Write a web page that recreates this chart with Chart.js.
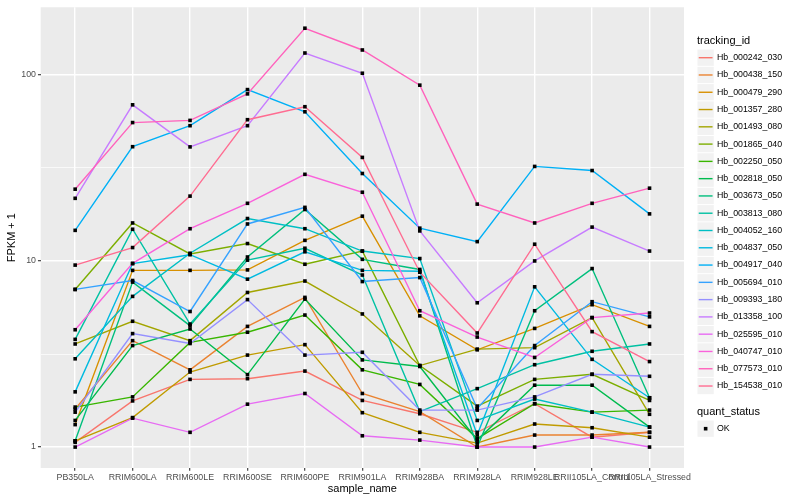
<!DOCTYPE html>
<html><head><meta charset="utf-8">
<script src="https://cdn.jsdelivr.net/npm/chart.js@4.4.1/dist/chart.umd.min.js"></script>
<style>html,body{margin:0;padding:0;background:#fff}#wrap{width:800px;height:500px;position:relative}</style>
</head><body><div id="wrap"><canvas id="c" width="800" height="500"></canvas></div>
<script>
const categories = ["PB350LA","RRIM600LA","RRIM600LE","RRIM600SE","RRIM600PE","RRIM901LA","RRIM928BA","RRIM928LA","RRIM928LE","RRII105LA_Control","RRII105LA_Stressed"];
const trackingIds = ["Hb_000242_030","Hb_000438_150","Hb_000479_290","Hb_001357_280","Hb_001493_080","Hb_001865_040","Hb_002250_050","Hb_002818_050","Hb_003673_050","Hb_003813_080","Hb_004052_160","Hb_004837_050","Hb_004917_040","Hb_005694_010","Hb_009393_180","Hb_013358_100","Hb_025595_010","Hb_040747_010","Hb_077573_010","Hb_154538_010"];
const seriesColors = ["#F8766D","#EA8331","#D89000","#C09B00","#A3A500","#7CAE00","#39B600","#00BB4E","#00BF7D","#00C1A3","#00BFC4","#00BAE0","#00B0F6","#35A2FF","#9590FF","#C77CFF","#E76BF3","#FA62DB","#FF62BC","#FF6C91"];
const yMajorTicks = [1, 10, 100];
const yMinorTicks = [3.1623, 31.623];

const hb_000242_030 = [1.06, 1.77, 2.31, 2.33, 2.56, 1.78, 1.51, 1.2, 1.71, 1.13, 1.2];
const hb_000438_150 = [1.60, 3.73, 2.60, 4.45, 6.37, 1.94, 1.55, 1.0, 1.16, 1.16, 1.2];
const hb_000479_290 = [1.32, 8.9, 8.9, 8.95, 12.9, 17.4, 5.07, 3.33, 4.34, 5.82, 4.45];
const hb_001357_280 = [1.08, 1.44, 2.53, 3.12, 3.55, 1.53, 1.2, 1.05, 1.33, 1.27, 1.13];
const hb_001493_080 = [3.58, 4.74, 3.73, 6.77, 7.8, 5.19, 2.74, 3.36, 3.42, 4.96, 1.5];
const hb_001865_040 = [7.03, 16.0, 10.9, 12.4, 9.6, 11.3, 2.74, 1.66, 2.31, 2.46, 1.78];
const hb_002250_050 = [1.64, 1.86, 3.65, 4.14, 5.12, 2.6, 2.17, 1.11, 1.71, 1.54, 1.58];
const hb_002818_050 = [1.39, 3.51, 4.31, 2.45, 6.24, 2.94, 2.71, 1.09, 2.15, 2.15, 1.28];
const hb_003673_050 = [1.08, 7.7, 4.49, 10.5, 18.9, 10.2, 9.0, 1.0, 5.4, 9.1, 1.84];
const hb_003813_080 = [3.79, 14.8, 4.58, 10.1, 11.7, 8.4, 1.55, 2.06, 2.77, 3.27, 3.58];
const hb_004052_160 = [2.98, 6.45, 11.0, 16.9, 14.9, 11.3, 10.3, 1.39, 1.81, 1.54, 1.28];
const hb_004837_050 = [1.98, 9.68, 10.8, 7.98, 11.2, 8.9, 8.8, 1.16, 7.26, 2.96, 1.84];
const hb_004917_040 = [14.6, 41.1, 53.3, 83.3, 63.3, 29.5, 15.0, 12.7, 32.2, 30.6, 17.9];
const hb_005694_010 = [7.03, 7.85, 5.35, 15.8, 19.4, 7.75, 8.14, 1.61, 3.51, 6.04, 5.01];
const hb_009393_180 = [1.54, 4.07, 3.6, 6.2, 3.12, 3.23, 1.58, 1.58, 1.86, 2.46, 2.4];
const hb_013358_100 = [21.7, 69, 41, 53.3, 131, 102, 14.5, 5.96, 10, 15.2, 11.3];
const hb_025595_010 = [1.0, 1.43, 1.2, 1.7, 1.94, 1.15, 1.09, 1.0, 1.0, 1.13, 1.0];
const hb_040747_010 = [4.27, 9.7, 14.9, 20.4, 29.2, 23.4, 5.4, 3.9, 3.03, 4.96, 5.25];
const hb_077573_010 = [24.3, 55.4, 56.9, 79, 178, 136, 88, 20.2, 16, 20.4, 24.6];
const hb_154538_010 = [9.5, 11.8, 22.3, 57.4, 67.4, 36, 8.7, 4.1, 12.3, 4.17, 2.88];

const seriesValues = [hb_000242_030, hb_000438_150, hb_000479_290, hb_001357_280, hb_001493_080, hb_001865_040, hb_002250_050, hb_002818_050, hb_003673_050, hb_003813_080, hb_004052_160, hb_004837_050, hb_004917_040, hb_005694_010, hb_009393_180, hb_013358_100, hb_025595_010, hb_040747_010, hb_077573_010, hb_154538_010];

const FONT = "'Liberation Sans', Arial, Helvetica, sans-serif";

// ggplot-like 5% expansion on log scale
const allVals = seriesValues.flat();
const lmin = Math.log10(Math.min(...allVals)), lmax = Math.log10(Math.max(...allVals));
const ex = (lmax - lmin) * 0.05;
const yMin = Math.pow(10, lmin - ex), yMax = Math.pow(10, lmax + ex);

const isMajor = v => yMajorTicks.some(t => Math.abs(t - v) < 1e-6);

const datasets = seriesValues.map((vals, i) => ({
  label: trackingIds[i],
  data: vals.map((v, j) => ({x: j, y: v})),
  borderColor: seriesColors[i],
  backgroundColor: seriesColors[i],
  borderWidth: 1.4,
  pointRadius: 0,
  tension: 0,
  fill: false,
  order: seriesValues.length - 1 - i
}));

const panelBg = {
  id: 'panelBg',
  beforeDraw(chart) {
    const {ctx, chartArea: a} = chart;
    ctx.save();
    ctx.fillStyle = '#EBEBEB';
    ctx.fillRect(a.left, a.top, a.right - a.left, a.bottom - a.top);
    ctx.restore();
  }
};

const pointsOnTop = {
  id: 'pointsOnTop',
  afterDatasetsDraw(chart) {
    const ctx = chart.ctx;
    ctx.save();
    ctx.fillStyle = '#000';
    chart.data.datasets.forEach((ds, i) => {
      chart.getDatasetMeta(i).data.forEach(pt => {
        ctx.fillRect(pt.x - 1.8, pt.y - 1.8, 3.6, 3.6);
      });
    });
    ctx.restore();
  }
};

const legendPlugin = {
  id: 'ggLegend',
  afterDraw(chart) {
    const ctx = chart.ctx;
    const x0 = 697, key = 17.28, tx = 717;
    ctx.save();
    ctx.fillStyle = '#000';
    ctx.textBaseline = 'middle';
    ctx.textAlign = 'left';
    ctx.font = `11px ${FONT}`;
    ctx.fillText('tracking_id', x0, 40.5);
    ctx.font = `8.8px ${FONT}`;
    trackingIds.forEach((id, i) => {
      const cy = 57.7 + i * key;
      ctx.fillStyle = '#F2F2F2';
      ctx.fillRect(x0 + 0.5, cy - key / 2 + 0.5, key - 1, key - 1);
      ctx.strokeStyle = seriesColors[i];
      ctx.lineWidth = 1.4;
      ctx.beginPath();
      ctx.moveTo(x0 + key * 0.1, cy);
      ctx.lineTo(x0 + key * 0.9, cy);
      ctx.stroke();
      ctx.fillStyle = '#000';
      ctx.fillText(id, tx, cy);
    });
    ctx.font = `11px ${FONT}`;
    ctx.fillText('quant_status', x0, 411.7);
    const cy = 428.7;
    ctx.fillStyle = '#F2F2F2';
    ctx.fillRect(x0 + 0.5, cy - key / 2 + 0.5, key - 1, key - 1);
    ctx.fillStyle = '#000';
    ctx.fillRect(x0 + key / 2 - 1.8, cy - 1.8, 3.6, 3.6);
    ctx.font = `8.8px ${FONT}`;
    ctx.fillText('OK', tx, cy);
    ctx.restore();
  }
};

new Chart(document.getElementById('c'), {
  type: 'line',
  data: {datasets},
  plugins: [panelBg, pointsOnTop, legendPlugin],
  options: {
    responsive: false,
    animation: false,
    devicePixelRatio: 1,
    layout: {padding: {left: 0, right: 116, top: 5, bottom: 0}},
    plugins: {legend: {display: false}, tooltip: {enabled: false}},
    scales: {
      x: {
        type: 'linear',
        min: -0.6,
        max: categories.length - 1 + 0.6,
        afterBuildTicks: s => { s.ticks = categories.map((_, i) => ({value: i})); },
        afterFit: s => { s.height = 32; },
        ticks: {
          autoSkip: false, maxRotation: 0, minRotation: 0,
          color: '#4D4D4D', font: {family: FONT, size: 8.8}, padding: 2,
          callback: v => categories[Math.round(v)] ?? ''
        },
        grid: {color: '#FFFFFF', lineWidth: 1.4, tickColor: '#333333', tickLength: 2.75, tickWidth: 1.1, drawTicks: true},
        border: {display: false},
        title: {display: true, text: 'sample_name', color: '#000', font: {family: FONT, size: 11}, padding: {top: 2, bottom: 4}}
      },
      y: {
        type: 'logarithmic',
        min: yMin, max: yMax,
        afterBuildTicks: s => { s.ticks = [...yMajorTicks, ...yMinorTicks].sort((a, b) => a - b).map(v => ({value: v})); },
        afterFit: s => { s.width = 40.7; },
        ticks: {
          color: '#4D4D4D', font: {family: FONT, size: 8.8}, padding: 2,
          callback: v => isMajor(v) ? String(Math.round(v)) : ''
        },
        grid: {
          color: '#FFFFFF',
          lineWidth: c => isMajor(c.tick.value) ? 1.4 : 0.7,
          tickColor: c => isMajor(c.tick.value) ? '#333333' : 'rgba(0,0,0,0)',
          tickLength: 2.75, tickWidth: 1.1, drawTicks: true
        },
        border: {display: false},
        title: {display: true, text: 'FPKM + 1', color: '#000', font: {family: FONT, size: 11}, padding: {top: 5, bottom: 2}}
      }
    }
  }
});
</script>
</body></html>
